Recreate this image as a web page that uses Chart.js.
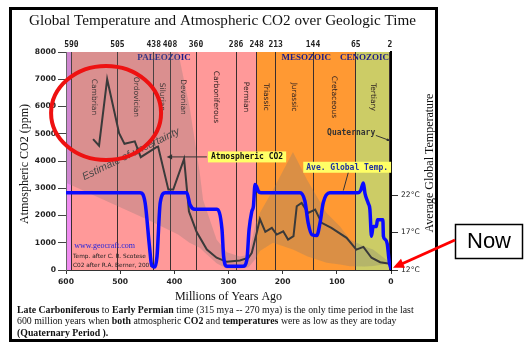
<!DOCTYPE html>
<html>
<head>
<meta charset="utf-8">
<script src="https://cdn.jsdelivr.net/npm/chart.js@4.4.1/dist/chart.umd.min.js"></script>
<style>
  html, body { margin: 0; padding: 0; background: #fff; }
</style>
</head>
<body>
<canvas id="geoChart" width="530" height="352"></canvas>
<script>
// --- data (mya = millions of years ago) ---
const boundaryTicks = [590, 505, 438, 408, 360, 286, 248, 213, 144, 65, 2];
const periodNames = ["Cambrian", "Ordovician", "Silurian", "Devonian", "Carboniferous", "Permian", "Triassic", "Jurassic", "Cretaceous", "Tertiary"];
const periodStart = [590, 505, 438, 408, 360, 286, 248, 213, 144, 65];
const periodEnd = [505, 438, 408, 360, 286, 248, 213, 144, 65, 2];
const eraNames = ["PALEOZOIC", "MESOZOIC", "CENOZOIC"];
const eraStart = [590, 248, 65];
const eraEnd = [248, 65, 0];
const bgStart = [600, 590, 248, 65];
const bgEnd = [590, 248, 65, 0];

const co2Mya = [550, 539, 524, 502, 492, 473, 462, 433, 430, 411, 402, 382, 373, 359, 340, 322, 303, 279, 263, 257, 248, 242, 232, 220, 211, 199, 190, 180, 174, 165, 153, 140, 128, 110, 82, 64, 51, 36, 20, 2];
const co2Ppm = [4800, 4560, 7000, 5020, 4630, 4720, 4140, 4510, 4530, 2950, 2950, 4080, 2150, 1400, 750, 450, 300, 350, 450, 630, 1360, 1870, 1400, 1545, 1300, 1420, 1117, 1240, 2340, 2460, 2095, 2215, 1730, 1545, 1180, 750, 850, 450, 285, 227];

const tempMya = [600, 463, 454, 446, 442, 436, 432, 426, 417, 377, 371, 362, 322, 312, 309, 303, 273, 266, 262, 257, 254, 251, 248, 245, 240, 168, 159, 153, 146, 137, 131, 125, 113, 100, 61, 56, 51, 48, 42, 39, 36, 33, 27, 25, 20, 15, 14, 11, 7, 3, 0];
const tempC = [22.3, 22.3, 21, 15.2, 12.7, 12.4, 13.8, 21, 22.3, 22.3, 20.7, 20.1, 20.1, 17.4, 13.8, 12.5, 12.5, 13.4, 17.4, 19.8, 20.5, 23.4, 23.1, 22.5, 22.3, 22.3, 21.2, 18.3, 16.7, 16.6, 18.3, 21, 22.3, 22.3, 22.3, 22.6, 23.6, 22.2, 20.9, 20.1, 16.5, 17.8, 17.8, 18.7, 18.7, 18.7, 16.5, 16.1, 15.5, 13, 12.2];

// uncertainty envelope around the CO2 estimate
const bandMya = [600, 500, 450, 393, 372, 353, 347, 322, 303, 279, 263, 250, 242, 218, 181, 155, 119, 94, 76, 48, 33, 5, 0];
const bandHigh = [8000, 8000, 8000, 8000, 6000, 3560, 2580, 1120, 650, 500, 560, 1700, 2100, 2940, 4330, 3310, 2095, 1600, 1120, 850, 750, 320, 300];
const bandLow = [3200, 2300, 1850, 1300, 1000, 820, 700, 250, 50, 50, 100, 400, 700, 1000, 750, 505, 270, 200, 140, 130, 150, 230, 230];

const xTicks = [600, 500, 400, 300, 200, 100, 0];
const tempTicks = [12, 17, 22];

// --- styles ---
const BG_COLORS = ["#f08cf0", "#ff9999", "#ff9933", "#cccc66"];
const SERIF = '"Liberation Serif", "DejaVu Serif", serif';
const SANS = '"DejaVu Sans", sans-serif';
const MONO = '"DejaVu Sans Mono", monospace';

const toPoints = (xs, ys) => xs.map((v, i) => ({ x: v, y: ys[i] }));

function fitFont(ctx, text, style, family, width) {
  ctx.font = style + " 10px " + family;
  const size = 10 * width / ctx.measureText(text).width;
  return style + " " + size.toFixed(2) + "px " + family;
}

function drawArrowHead(ctx, x0, y0, x1, y1, len, spread) {
  const ang = Math.atan2(y1 - y0, x1 - x0);
  ctx.beginPath();
  ctx.moveTo(x1, y1);
  ctx.lineTo(x1 - len * Math.cos(ang - spread), y1 - len * Math.sin(ang - spread));
  ctx.lineTo(x1 - len * Math.cos(ang + spread), y1 - len * Math.sin(ang + spread));
  ctx.closePath();
  ctx.fill();
}

function labelBox(ctx, text, x, y, color) {
  ctx.font = "bold 8px " + MONO;
  const w = ctx.measureText(text).width + 6;
  ctx.fillStyle = "#ffff66";
  ctx.fillRect(x, y - 5.5, w, 11);
  ctx.fillStyle = color;
  ctx.textAlign = "left";
  ctx.textBaseline = "middle";
  ctx.fillText(text, x + 3, y + 0.5);
  return w;
}

const captionLines = [
  [["Late Carboniferous", true], [" to ", false], ["Early Permian", true], [" time (315 mya -- 270 mya) is the only time period in the last", false]],
  [["600 million years when ", false], ["both", true], [" atmospheric ", false], ["CO2", true], [" and ", false], ["temperatures", true], [" were as low as they are today", false]],
  [["(Quaternary Period ).", true]]
];

const decorPlugin = {
  id: "decor",
  beforeDraw(chart) {
    const { ctx, chartArea: a, scales } = chart;
    const xs = scales.x;
    ctx.save();
    ctx.fillStyle = "#fff";
    ctx.fillRect(0, 0, chart.width, chart.height);
    bgStart.forEach((s, i) => {
      const x0 = xs.getPixelForValue(s);
      const x1 = xs.getPixelForValue(bgEnd[i]);
      ctx.fillStyle = BG_COLORS[i];
      ctx.fillRect(x0, a.top, x1 - x0, a.bottom - a.top);
    });
    ctx.restore();
  },
  beforeDatasetsDraw(chart) {
    const { ctx, chartArea: a, scales } = chart;
    const xs = scales.x, ys = scales.y;
    ctx.save();
    // period names, rotated
    ctx.font = "7.5px " + SANS;
    ctx.fillStyle = "#2e2020";
    ctx.textAlign = "center";
    ctx.textBaseline = "middle";
    periodNames.forEach((name, i) => {
      const px = xs.getPixelForValue((periodStart[i] + periodEnd[i]) / 2);
      const py = ys.getPixelForValue(6350);
      ctx.save();
      ctx.translate(px, py);
      ctx.rotate(Math.PI / 2);
      ctx.fillText(name, 0, 0);
      ctx.restore();
    });
    // era names
    ctx.font = "bold 9px " + SERIF;
    ctx.fillStyle = "#1c1c8a";
    eraNames.forEach((name, i) => {
      const w = ctx.measureText(name).width;
      let cx = xs.getPixelForValue((eraStart[i] + eraEnd[i]) / 2);
      cx = Math.min(cx, a.right - 2 - w / 2);
      ctx.fillText(name, cx, ys.getPixelForValue(7780));
    });
    // estimate of uncertainty
    ctx.save();
    ctx.translate(xs.getPixelForValue(480), ys.getPixelForValue(4250));
    ctx.rotate(-26 * Math.PI / 180);
    ctx.font = "italic 10.5px " + '"Liberation Sans", Arial, sans-serif';
    ctx.fillStyle = "#333";
    ctx.fillText("Estimate of uncertainty", 0, 0);
    ctx.restore();
    // credits
    ctx.textAlign = "left";
    ctx.font = "8px " + SERIF;
    ctx.fillStyle = "#2323dd";
    ctx.fillText("www.geocraft.com", xs.getPixelForValue(585), ys.getPixelForValue(900));
    ctx.font = "5.8px " + SANS;
    ctx.fillStyle = "#222";
    ctx.fillText("Temp. after C. R. Scotese", xs.getPixelForValue(587), ys.getPixelForValue(510));
    ctx.fillText("C02 after R.A. Berner, 2001", xs.getPixelForValue(587), ys.getPixelForValue(160));
    ctx.restore();
  },
  afterDraw(chart) {
    const { ctx, chartArea: a, scales } = chart;
    const xs = scales.x, ys = scales.y, ts = scales.temp;
    ctx.save();

    // red circle round the Cambrian peak
    ctx.strokeStyle = "#ee1111";
    ctx.lineWidth = 4;
    ctx.beginPath();
    ctx.ellipse(xs.getPixelForValue(526), ys.getPixelForValue(5760), 55, 47, 0, 0, Math.PI * 2);
    ctx.stroke();

    // Atmospheric CO2 label + arrow
    const bx = xs.getPixelForValue(338), by = ys.getPixelForValue(4150);
    labelBox(ctx, "Atmospheric CO2", bx, by, "#111");
    ctx.strokeStyle = "#333";
    ctx.fillStyle = "#333";
    ctx.lineWidth = 1;
    const ax = xs.getPixelForValue(414);
    ctx.beginPath();
    ctx.moveTo(bx - 1, by);
    ctx.lineTo(ax + 4, by);
    ctx.stroke();
    drawArrowHead(ctx, bx, by, ax, by, 6, 0.45);

    // Ave. Global Temp. label + leader
    const gx = xs.getPixelForValue(162), gy = ys.getPixelForValue(3770);
    labelBox(ctx, "Ave. Global Temp.", gx, gy, "#1f2fa0");
    ctx.strokeStyle = "#333";
    ctx.beginPath();
    ctx.moveTo(xs.getPixelForValue(79), gy + 5.5);
    ctx.lineTo(xs.getPixelForValue(88), ts.getPixelForValue(22.6));
    ctx.stroke();

    // Quaternary
    ctx.font = "bold 8px " + MONO;
    ctx.fillStyle = "#333";
    ctx.textAlign = "left";
    ctx.textBaseline = "middle";
    const qx = xs.getPixelForValue(118), qy = ys.getPixelForValue(5030);
    ctx.fillText("Quaternary", qx, qy);
    ctx.beginPath();
    ctx.moveTo(xs.getPixelForValue(28), qy + 2.5);
    ctx.lineTo(xs.getPixelForValue(3), qy + 7.5);
    ctx.stroke();
    drawArrowHead(ctx, xs.getPixelForValue(28), qy + 2.5, xs.getPixelForValue(1), qy + 8, 4, 0.4);

    // axis titles
    ctx.fillStyle = "#111";
    ctx.textAlign = "center";
    ctx.font = "12px " + SERIF;
    ctx.save();
    ctx.translate(25, (a.top + a.bottom) / 2 + 3);
    ctx.rotate(-Math.PI / 2);
    ctx.fillText("Atmospheric CO2 (ppm)", 0, 0);
    ctx.restore();
    ctx.save();
    ctx.translate(430, (a.top + a.bottom) / 2 + 2);
    ctx.rotate(-Math.PI / 2);
    ctx.fillText("Average Global Temperature", 0, 0);
    ctx.restore();
    ctx.fillText("Millions of Years Ago", (a.left + a.right) / 2, 297);

    // title
    const title = "Global Temperature and Atmospheric CO2 over Geologic Time";
    ctx.font = fitFont(ctx, title, "", SERIF, 387);
    ctx.fillText(title, 222.5, 21);

    // caption below the axis
    ctx.textAlign = "left";
    let w1 = 0;
    captionLines[0].forEach(s => {
      ctx.font = (s[1] ? "bold " : "") + "10px " + SERIF;
      w1 += ctx.measureText(s[0]).width;
    });
    const size = (10 * 397 / w1).toFixed(2);
    captionLines.forEach((line, li) => {
      let cx = 17;
      const cy = 310 + li * 11.5;
      line.forEach(s => {
        ctx.font = (s[1] ? "bold " : "") + size + "px " + SERIF;
        ctx.fillText(s[0], cx, cy);
        cx += ctx.measureText(s[0]).width;
      });
    });

    // outer frame
    ctx.strokeStyle = "#000";
    ctx.lineWidth = 3;
    ctx.strokeRect(10.5, 8.5, 426, 332);

    // "Now" callout
    ctx.lineWidth = 1.5;
    ctx.fillStyle = "#fff";
    ctx.fillRect(455, 224, 68, 35);
    ctx.strokeRect(455.5, 224.5, 67, 34);
    ctx.fillStyle = "#000";
    ctx.font = '22px "Liberation Sans", Arial, sans-serif';
    ctx.textAlign = "center";
    ctx.fillText("Now", 489, 242);
    const tipX = xs.getPixelForValue(0) + 2, tipY = ts.getPixelForValue(12.3);
    ctx.strokeStyle = "#ff0000";
    ctx.fillStyle = "#ff0000";
    ctx.lineWidth = 3;
    ctx.beginPath();
    ctx.moveTo(455, 240);
    ctx.lineTo(tipX + 8, tipY - 3.5);
    ctx.stroke();
    drawArrowHead(ctx, 455, 240, tipX, tipY, 12, 0.42);

    ctx.restore();
  }
};

const tickFont = { family: SANS, size: 7.6, weight: "bold" };

new Chart(document.getElementById("geoChart"), {
  type: "line",
  data: {
    datasets: [
      {
        label: "upper",
        data: toPoints(bandMya, bandHigh),
        borderWidth: 0,
        pointRadius: 0,
        fill: "+1",
        backgroundColor: "rgba(120,120,120,0.27)",
        order: 3,
      },
      {
        label: "lower",
        data: toPoints(bandMya, bandLow),
        borderWidth: 0,
        pointRadius: 0,
        fill: false,
        order: 4,
      },
      {
        label: "Atmospheric CO2",
        data: toPoints(co2Mya, co2Ppm),
        borderColor: "#3a3a3a",
        borderWidth: 2,
        pointRadius: 0,
        tension: 0,
        fill: false,
        order: 1,
      },
      {
        label: "Ave. Global Temp.",
        data: toPoints(tempMya, tempC),
        yAxisID: "temp",
        borderColor: "#0a0aff",
        borderWidth: 3.5,
        pointRadius: 0,
        cubicInterpolationMode: "monotone",
        borderCapStyle: "round",
        borderJoinStyle: "round",
        fill: false,
        order: 0,
      },
    ],
  },
  options: {
    responsive: false,
    animation: false,
    devicePixelRatio: 1,
    layout: { padding: 0 },
    plugins: {
      legend: { display: false },
      tooltip: { enabled: false },
    },
    scales: {
      x: {
        type: "linear",
        position: "bottom",
        reverse: true,
        min: 0,
        max: 600,
        afterBuildTicks: (s) => { s.ticks = xTicks.map((v) => ({ value: v })); },
        ticks: { color: "#222", font: tickFont, padding: 3, maxRotation: 0, autoSkip: false, callback: (v) => String(v) },
        grid: { drawOnChartArea: false, tickLength: 4, color: "#333" },
        border: { color: "#333", width: 1 },
        afterFit: (s) => { s.height = 82; },
      },
      top: {
        type: "linear",
        position: "top",
        reverse: true,
        min: 0,
        max: 600,
        afterBuildTicks: (s) => { s.ticks = boundaryTicks.map((v) => ({ value: v })); },
        ticks: {
          color: "#222",
          font: { family: MONO, size: 8, weight: "bold" },
          padding: 2,
          maxRotation: 0,
          minRotation: 0,
          autoSkip: false,
          callback: (v) => String(v),
        },
        grid: { drawTicks: false, color: "#3a2e2e", lineWidth: 1 },
        border: { display: false },
        afterFit: (s) => { s.height = 52; },
      },
      y: {
        position: "left",
        min: 0,
        max: 8000,
        afterBuildTicks: (s) => {
          const t = [];
          for (let v = 0; v <= 8000; v += 1000) t.push({ value: v });
          s.ticks = t;
        },
        ticks: { color: "#222", font: tickFont, padding: 2, callback: (v) => String(v) },
        grid: { drawOnChartArea: false, tickLength: 8, color: "#444" },
        border: { color: "#666", width: 1 },
        afterFit: (s) => { s.width = 66; },
      },
      temp: {
        position: "right",
        min: 12,
        max: 41.07,
        afterBuildTicks: (s) => { s.ticks = tempTicks.map((v) => ({ value: v })); },
        ticks: {
          color: "#222",
          font: { family: SANS, size: 7.6 },
          padding: 3,
          callback: (v) => v + "°C",
        },
        grid: { drawOnChartArea: false, tickLength: 7, color: "#333" },
        border: { color: "#000", width: 2 },
        afterFit: (s) => { s.width = 139; },
      },
    },
  },
  plugins: [decorPlugin],
});
</script>
</body>
</html>
